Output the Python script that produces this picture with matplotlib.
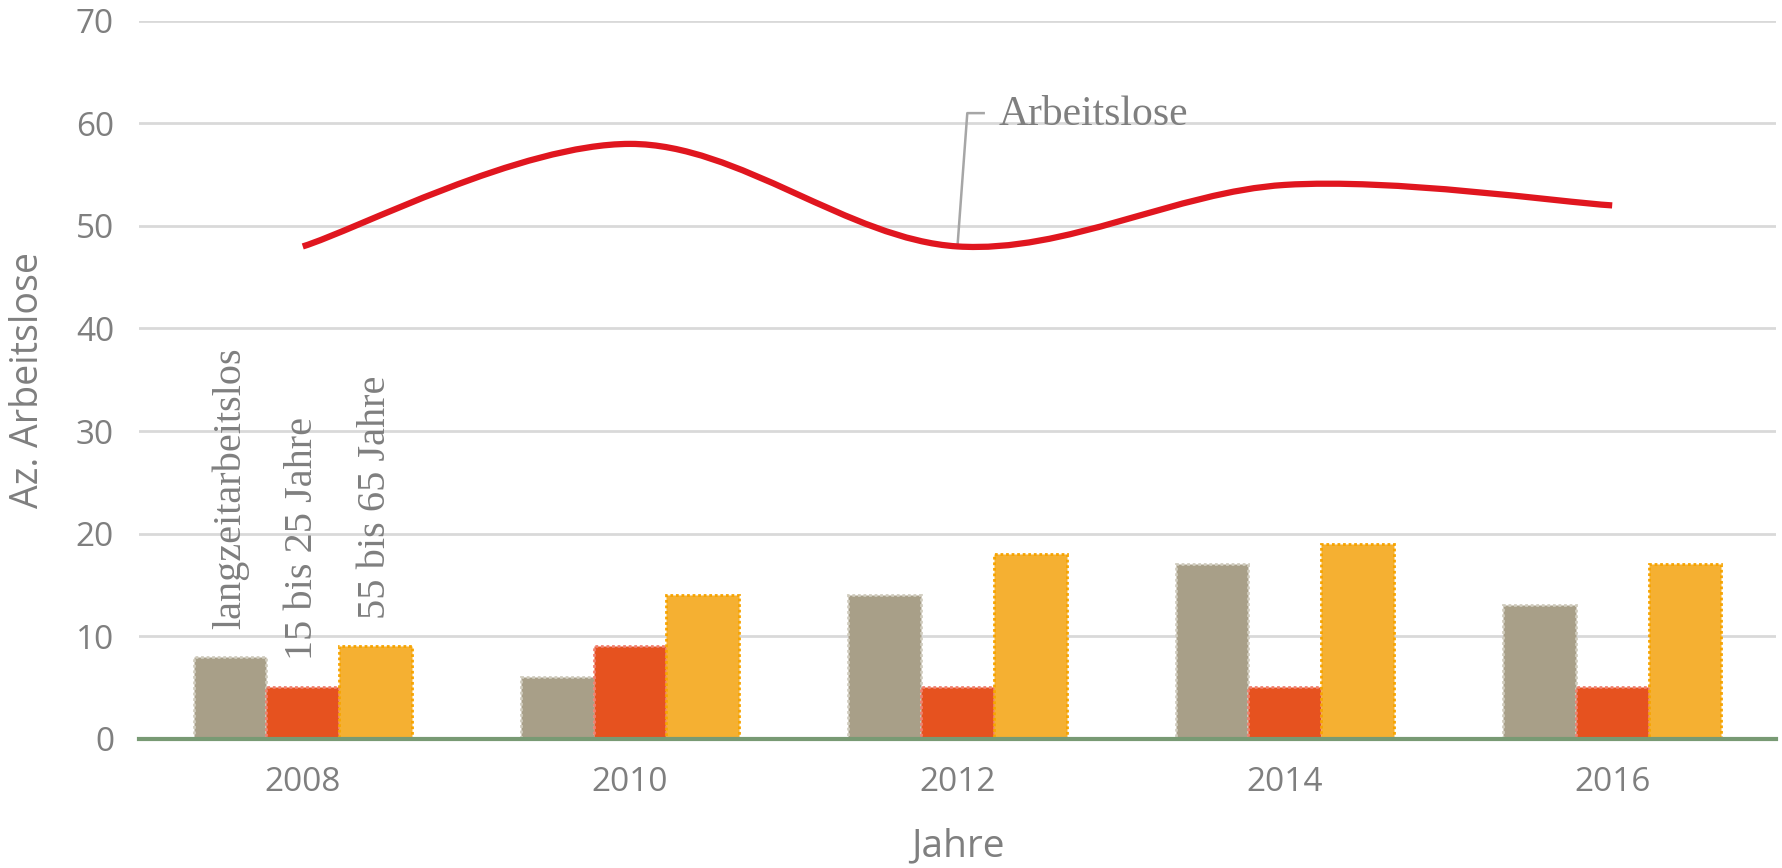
#!/usr/bin/env python3
"""Arbeitslose 2008-2016: grouped bars plus smoothed total line."""

import matplotlib

matplotlib.use("Agg")
import matplotlib.pyplot as plt
import numpy as np
from matplotlib.path import Path
from matplotlib.patches import PathPatch


YEARS = ["2008", "2010", "2012", "2014", "2016"]
LANGZEIT = [8, 6, 14, 17, 13]
JUNG = [5, 9, 5, 5, 5]
ALT = [9, 14, 18, 19, 17]
ARBEITSLOSE = [48, 58, 48, 54, 52]
SERIES_NAMES = ["langzeitarbeitslos", "15 bis 25 Jahre", "55 bis 65 Jahre"]
LINE_NAME = "Arbeitslose"

TEXT = "#7f7f7f"
SANS = ["Open Sans", "DejaVu Sans"]
SERIF = ["Liberation Serif", "DejaVu Serif"]


def smooth_path(x, y, k=1 / 6):
    """Excel-style smoothed line: cubic Bezier through every data point."""
    pts = np.column_stack([x, y]).astype(float)
    n = len(pts)
    verts = [pts[0]]
    codes = [Path.MOVETO]
    for i in range(n - 1):
        p0 = pts[max(i - 1, 0)]
        p1 = pts[i]
        p2 = pts[i + 1]
        p3 = pts[min(i + 2, n - 1)]
        c1 = p1 + (p2 - p0) * k
        c2 = p2 - (p3 - p1) * k
        verts += [c1, c2, p2]
        codes += [Path.CURVE4] * 3
    return Path(verts, codes)


def main() -> None:
    fig = plt.figure(figsize=(17.83, 8.68), dpi=100)
    ax = fig.add_axes([0.078, 0.149, 0.918, 0.827])

    x = np.arange(len(YEARS))
    w = 2 / 9
    bars = [
        (LANGZEIT, -w, "#a89f88", "#d0ccbe"),
        (JUNG, 0.0, "#e6521f", "#f08070"),
        (ALT, w, "#f5b032", "#f7a400"),
    ]
    for vals, off, face, edge in bars:
        ax.bar(x + off, vals, width=w, color=face, edgecolor=edge,
               linewidth=2, linestyle=(0, (1, 1)), zorder=2)

    # series names written above the first group
    for (vals, off, _, _), name in zip(bars, SERIES_NAMES):
        ax.text(x[0] + off, vals[0] + 2.7, name, rotation=90, ha="center",
                va="bottom", fontsize=29, color=TEXT, family=SERIF)

    path = smooth_path(x, ARBEITSLOSE)
    ax.add_patch(PathPatch(path, facecolor="none", edgecolor="#e0161f",
                           linewidth=4.5, capstyle="butt", zorder=3))

    # callout to the 2012 point
    px, py = x[2], ARBEITSLOSE[2]
    ax.plot([px, px + 0.03, px + 0.08], [py, py + 13, py + 13],
            color="#a6a6a6", linewidth=1.8, zorder=2)
    ax.text(px + 0.125, py + 12.8, LINE_NAME, ha="left", va="center",
            fontsize=30, color=TEXT, family=SERIF)

    ax.set_xlim(-0.5, len(YEARS) - 0.5)
    ax.set_ylim(0, 70)
    ax.set_yticks(range(0, 71, 10))
    ax.set_xticks(x)
    ax.set_xticklabels(YEARS)
    ax.yaxis.grid(True, color="#d9d9d9", linewidth=2)
    ax.set_axisbelow(True)
    for side in ["top", "right", "left"]:
        ax.spines[side].set_visible(False)
    ax.spines["bottom"].set_color("#789a74")
    ax.spines["bottom"].set_linewidth(3)
    ax.spines["bottom"].set_zorder(4)
    ax.tick_params(length=0, labelsize=24, labelcolor=TEXT)
    ax.tick_params(axis="x", pad=20)
    ax.tick_params(axis="y", pad=18)
    for lab in ax.get_xticklabels() + ax.get_yticklabels():
        lab.set_family(SANS)

    ax.set_xlabel("Jahre", fontsize=28, color=TEXT, family=SANS, labelpad=20)
    ax.set_ylabel("Az. Arbeitslose", fontsize=27, color=TEXT, family=SANS,
                  labelpad=21)

    fig.savefig("out.png", dpi=100)
    plt.close(fig)


if __name__ == "__main__":
    main()
